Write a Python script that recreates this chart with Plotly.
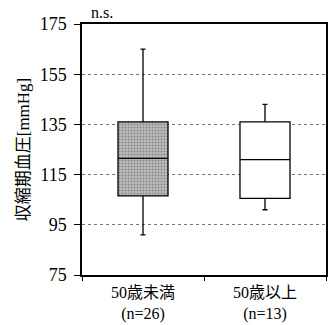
import plotly.graph_objects as go

categories = ["50歳未満<br>(n=26)", "50歳以上<br>(n=13)"]
lower_whisker = [91, 101]
q1 = [106.5, 105.5]
median = [121.5, 121]
q3 = [136, 136]
upper_whisker = [165, 143]
patterned = [True, False]
yticks = [75, 95, 115, 135, 155, 175]

font_fam = "Liberation Serif, Noto Sans CJK JP, serif"

fig = go.Figure()
# dotted gray shading for the patterned box
fig.add_trace(go.Bar(
    x=[c for c, p in zip(categories, patterned) if p],
    base=[a for a, p in zip(q1, patterned) if p],
    y=[b - a for a, b, p in zip(q1, q3, patterned) if p],
    width=0.41,
    marker=dict(color="#bdbdbd", line=dict(width=0),
                pattern=dict(shape=".", fgcolor="#555555", bgcolor="#bdbdbd",
                             size=3, solidity=0.4)),
    showlegend=False, hoverinfo="skip",
))
for i, c in enumerate(categories):
    fig.add_trace(go.Box(
        x=[c], q1=[q1[i]], median=[median[i]], q3=[q3[i]],
        lowerfence=[lower_whisker[i]], upperfence=[upper_whisker[i]],
        fillcolor="rgba(0,0,0,0)" if patterned[i] else "white",
        line=dict(color="black", width=1.3),
        whiskerwidth=0.1, width=0.41, boxpoints=False, showlegend=False,
        hoverinfo="skip",
    ))

fig.update_layout(
    width=335, height=325,
    margin=dict(l=82, r=9, t=24, b=50),
    boxmode="overlay", barmode="overlay",
    plot_bgcolor="white", paper_bgcolor="white",
    font=dict(family=font_fam, size=18, color="black"),
    xaxis=dict(
        categoryorder="array", categoryarray=categories, range=[-0.5, 1.5],
        automargin=False,
        showline=True, linecolor="black", linewidth=1.5, mirror=True,
        ticks="outside", tickson="boundaries", ticklen=4, tickcolor="black",
        ticklabelstandoff=2,
        showgrid=False, tickfont=dict(size=16),
    ),
    yaxis=dict(
        range=[75, 175], tickvals=yticks, ticktext=[str(v) for v in yticks],
        automargin=False,
        showline=True, linecolor="black", linewidth=1.5, mirror=True,
        ticks="outside", ticklen=6, tickcolor="black",
        ticklabelstandoff=4,
        showgrid=True, gridcolor="#777777", griddash="dot", gridwidth=1,
        zeroline=False, tickfont=dict(size=18),
        title=dict(text="収縮期血圧[mmHg]", font=dict(size=17), standoff=6),
    ),
)
fig.add_annotation(x=0.03, y=1.0, xref="paper", yref="paper", text="n.s.",
                   showarrow=False, xanchor="left", yanchor="middle",
                   font=dict(size=16), yshift=12)

fig.write_html("out.html")
